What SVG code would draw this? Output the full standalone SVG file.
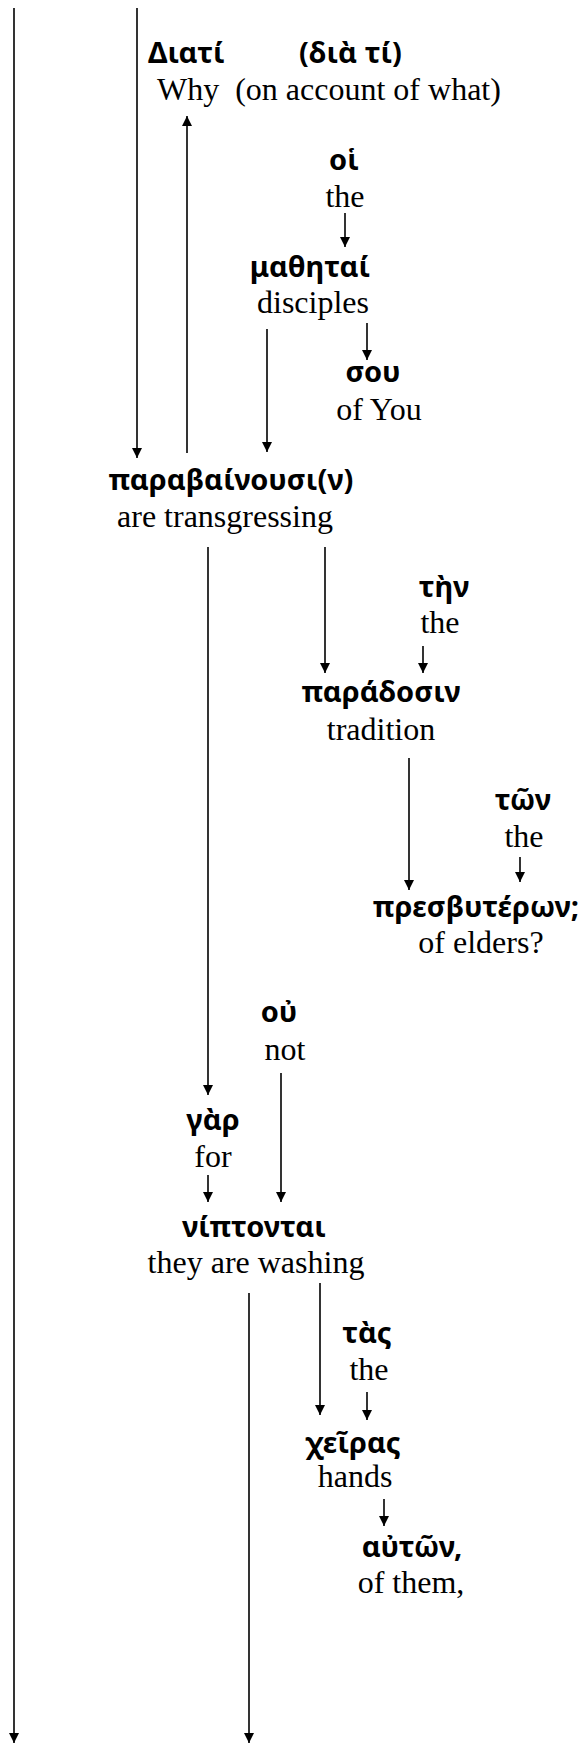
<svg xmlns="http://www.w3.org/2000/svg" width="582" height="1744" viewBox="0 0 582 1744">
  <style>
    .gk { font-family: "Noto Sans", "DejaVu Sans", sans-serif; font-weight: bold; font-size: 29px; fill: #000; }
    .en { font-family: "Liberation Serif", "Times New Roman", serif; font-size: 32px; fill: #000; }
    .c { text-anchor: middle; }
    .ln { stroke: #000; stroke-width: 1.6; fill: none; }
    .ar { marker-end: url(#head); }
  </style>
  <defs>
    <marker id="head" markerUnits="userSpaceOnUse" markerWidth="10" markerHeight="10" refX="10" refY="5" orient="auto">
      <path d="M0,0 L10,5 L0,10 z" fill="#000"/>
    </marker>
  </defs>
  <rect width="582" height="1744" fill="#fff"/>

  <!-- connectors -->
  <g id="connectors">
    <line class="ln ar" x1="14" y1="8" x2="14" y2="1743"/>
    <line class="ln ar" x1="137" y1="8" x2="137" y2="458"/>
    <line class="ln ar" x1="187" y1="453" x2="187" y2="116"/>
    <line class="ln ar" x1="345" y1="213" x2="345" y2="247"/>
    <line class="ln ar" x1="367" y1="323" x2="367" y2="360"/>
    <line class="ln ar" x1="267" y1="329" x2="267" y2="452"/>
    <line class="ln ar" x1="208" y1="547" x2="208" y2="1095"/>
    <line class="ln ar" x1="325" y1="547" x2="325" y2="673"/>
    <line class="ln ar" x1="423" y1="646" x2="423" y2="673"/>
    <line class="ln ar" x1="409" y1="758" x2="409" y2="890"/>
    <line class="ln ar" x1="520" y1="857" x2="520" y2="882"/>
    <line class="ln ar" x1="281" y1="1073" x2="281" y2="1202"/>
    <line class="ln ar" x1="208" y1="1175" x2="208" y2="1202"/>
    <line class="ln ar" x1="249" y1="1293" x2="249" y2="1743"/>
    <line class="ln ar" x1="320" y1="1283" x2="320" y2="1415"/>
    <line class="ln ar" x1="367" y1="1392" x2="367" y2="1420"/>
    <line class="ln ar" x1="384" y1="1499" x2="384" y2="1526"/>
  </g>

  <!-- words -->
  <g id="diati">
    <text class="gk" x="148" y="63">Διατί</text>
    <text class="gk" x="299" y="63">(διὰ τί)</text>
    <text class="en" x="157" y="100" xml:space="preserve">Why  (on account of what)</text>
  </g>
  <g id="hoi">
    <text class="gk c" x="344" y="170">οἱ</text>
    <text class="en c" x="345" y="207">the</text>
  </g>
  <g id="mathetai">
    <text class="gk c" x="310" y="277">μαθηταί</text>
    <text class="en c" x="313" y="313">disciples</text>
  </g>
  <g id="sou">
    <text class="gk c" x="373" y="382">σου</text>
    <text class="en c" x="379" y="420">of You</text>
  </g>
  <g id="parabainousi">
    <text class="gk c" x="231" y="490">παραβαίνουσι(ν)</text>
    <text class="en c" x="225" y="527">are transgressing</text>
  </g>
  <g id="ten">
    <text class="gk c" x="444" y="597">τὴν</text>
    <text class="en c" x="440" y="633">the</text>
  </g>
  <g id="paradosin">
    <text class="gk c" x="381" y="702">παράδοσιν</text>
    <text class="en c" x="381" y="740">tradition</text>
  </g>
  <g id="ton">
    <text class="gk c" x="523" y="810">τῶν</text>
    <text class="en c" x="524" y="847">the</text>
  </g>
  <g id="presbyteron">
    <text class="gk c" x="476" y="917">πρεσβυτέρων;</text>
    <text class="en c" x="481" y="953">of elders?</text>
  </g>
  <g id="ou">
    <text class="gk c" x="279" y="1022">οὐ</text>
    <text class="en c" x="285" y="1060">not</text>
  </g>
  <g id="gar">
    <text class="gk c" x="213" y="1130">γὰρ</text>
    <text class="en c" x="213" y="1167">for</text>
  </g>
  <g id="niptontai">
    <text class="gk c" x="254" y="1237">νίπτονται</text>
    <text class="en c" x="256" y="1273">they are washing</text>
  </g>
  <g id="tas">
    <text class="gk c" x="367" y="1343">τὰς</text>
    <text class="en c" x="369" y="1380">the</text>
  </g>
  <g id="cheiras">
    <text class="gk c" x="353" y="1453">χεῖρας</text>
    <text class="en c" x="355" y="1487">hands</text>
  </g>
  <g id="auton">
    <text class="gk c" x="412" y="1557">αὐτῶν,</text>
    <text class="en c" x="411" y="1593">of them,</text>
  </g>
</svg>
